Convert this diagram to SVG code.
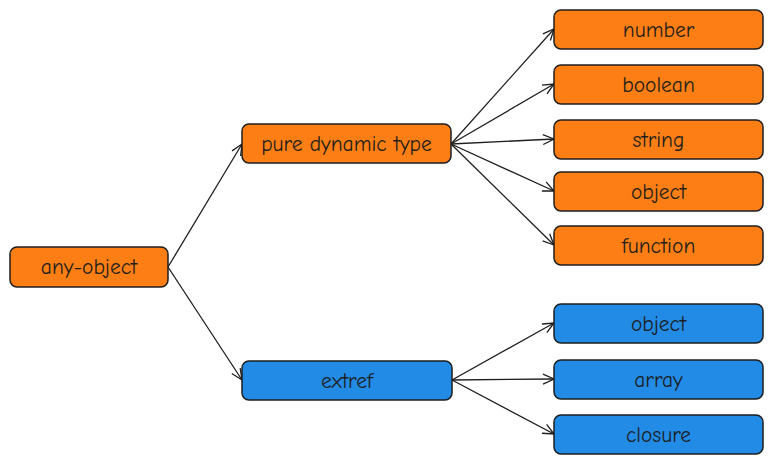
<svg xmlns="http://www.w3.org/2000/svg" width="773" height="463" viewBox="0 0 773 463">
<defs>
<style>
.n rect{stroke:#1e1e1e;stroke-width:1.5}
.o rect{fill:#fd7e14}
.b rect{fill:#228be6}
.n text{font-family:"Comic Neue","Noto Sans","DejaVu Sans",sans-serif;font-size:21.5px;fill:#1e1e1e;text-anchor:middle;dominant-baseline:central}
.c path{fill:none;stroke:#1e1e1e;stroke-width:1.3;marker-end:url(#ah)}
</style>
<marker id="ah" viewBox="-12 -6 14 12" refX="0" refY="0" markerWidth="14" markerHeight="12" markerUnits="userSpaceOnUse" orient="auto">
<path d="M-11,-5 L0,0 L-11,5" fill="none" stroke="#1e1e1e" stroke-width="1.3"/>
</marker>
</defs>
<rect width="773" height="463" fill="#ffffff"/>
<g class="c" id="connectors">
<path d="M168,267 L242,144"/>
<path d="M168,267 L242,380"/>
<path d="M451,144 L554,29"/>
<path d="M451,144 L554,84"/>
<path d="M451,144 L554,139"/>
<path d="M451,144 L554,191"/>
<path d="M451,144 L554,245"/>
<path d="M452,380 L554,323"/>
<path d="M452,380 L554,379"/>
<path d="M452,380 L554,434"/>
</g>
<g id="any-object" class="n o"><rect x="10" y="247" width="158" height="40" rx="7"/><text x="89" y="267">any-object</text></g>
<g id="pure-dynamic-type" class="n o"><rect x="242" y="124" width="209" height="39" rx="7"/><text x="346.5" y="143.5">pure dynamic type</text></g>
<g id="extref" class="n b"><rect x="242" y="361" width="210" height="39" rx="7"/><text x="347" y="380.5">extref</text></g>
<g id="number" class="n o"><rect x="554" y="10" width="209" height="39" rx="7"/><text x="658.5" y="29.5">number</text></g>
<g id="boolean" class="n o"><rect x="554" y="65" width="209" height="39" rx="7"/><text x="658.5" y="84.5">boolean</text></g>
<g id="string" class="n o"><rect x="554" y="120" width="209" height="39" rx="7"/><text x="658.5" y="139.5">string</text></g>
<g id="object-1" class="n o"><rect x="554" y="172" width="209" height="39" rx="7"/><text x="658.5" y="191.5">object</text></g>
<g id="function" class="n o"><rect x="554" y="226" width="209" height="39" rx="7"/><text x="658.5" y="245.5">function</text></g>
<g id="object-2" class="n b"><rect x="554" y="304" width="209" height="39" rx="7"/><text x="658.5" y="323.5">object</text></g>
<g id="array" class="n b"><rect x="554" y="360" width="209" height="39" rx="7"/><text x="658.5" y="379.5">array</text></g>
<g id="closure" class="n b"><rect x="554" y="415" width="209" height="39" rx="7"/><text x="658.5" y="434.5">closure</text></g>
</svg>
